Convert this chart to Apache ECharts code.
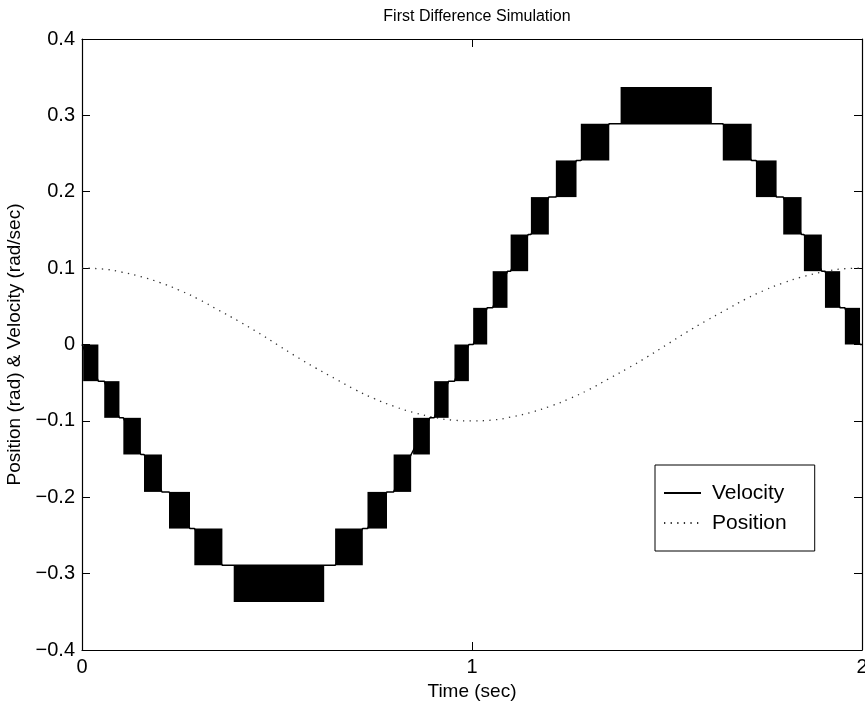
<!DOCTYPE html>
<html>
<head>
<meta charset="utf-8">
<script src="https://cdn.jsdelivr.net/npm/echarts@6/dist/echarts.min.js"></script>
<style>
  html, body { margin: 0; padding: 0; background: #fff; }
  #chart { width: 865px; height: 704px; }
</style>
</head>
<body>
<div id="chart"></div>
<script>
// Quantized velocity: bands where the output switches rapidly between two levels
const bandStart = [0.003, 0.057, 0.106, 0.159, 0.223, 0.288, 0.389, 0.649, 0.732, 0.799, 0.849, 0.903, 0.955,
                   1.003, 1.053, 1.099, 1.151, 1.215, 1.279, 1.381, 1.643, 1.728, 1.798, 1.851, 1.905, 1.956];
const bandEnd   = [0.042, 0.096, 0.151, 0.205, 0.277, 0.360, 0.621, 0.720, 0.782, 0.844, 0.892, 0.940, 0.992,
                   1.039, 1.091, 1.144, 1.197, 1.268, 1.352, 1.615, 1.717, 1.781, 1.845, 1.897, 1.944, 1.995];
const bandLow   = [-0.048, -0.096, -0.144, -0.193, -0.241, -0.289, -0.337, -0.289, -0.241, -0.193, -0.144, -0.096, -0.048,
                   0, 0.048, 0.096, 0.144, 0.193, 0.241, 0.289, 0.241, 0.193, 0.144, 0.096, 0.048, 0];
const bandHigh  = [0, -0.048, -0.096, -0.144, -0.193, -0.241, -0.289, -0.241, -0.193, -0.144, -0.096, -0.048, 0,
                   0.048, 0.096, 0.144, 0.193, 0.241, 0.289, 0.337, 0.289, 0.241, 0.193, 0.144, 0.096, 0.048];
// Level held after each band until the next band begins
const holdLevel = [-0.048, -0.096, -0.144, -0.193, -0.241, -0.289, -0.289, -0.241, -0.193, -0.144, -0.096, -0.048, 0,
                   0.048, 0.096, 0.144, 0.193, 0.241, 0.289, 0.289, 0.241, 0.193, 0.144, 0.096, 0.048, 0];

// Position trace
const posTime  = [0, 0.05, 0.1, 0.15, 0.2, 0.25, 0.3, 0.35, 0.4, 0.45, 0.5, 0.55, 0.6, 0.65, 0.7, 0.75, 0.8, 0.85, 0.9, 0.95,
                  1.0, 1.05, 1.1, 1.15, 1.2, 1.25, 1.3, 1.35, 1.4, 1.45, 1.5, 1.55, 1.6, 1.65, 1.7, 1.75, 1.8, 1.85, 1.9, 1.95, 2.0];
const posValue = [0.100, 0.099, 0.095, 0.089, 0.081, 0.071, 0.059, 0.045, 0.031, 0.016, 0.000, -0.016, -0.031, -0.045,
                  -0.059, -0.071, -0.081, -0.089, -0.095, -0.099, -0.100, -0.099, -0.095, -0.089, -0.081, -0.071,
                  -0.059, -0.045, -0.031, -0.016, 0.000, 0.016, 0.031, 0.045, 0.059, 0.071, 0.081, 0.089, 0.095, 0.099, 0.100];

const xTicks = [0, 1, 2];
const yTicks = [-0.4, -0.3, -0.2, -0.1, 0, 0.1, 0.2, 0.3, 0.4];

const FONT = 'Liberation Sans, Arial, Helvetica, sans-serif';

// Stair path through the held levels
const velLine = [[0, 0]];
for (let i = 0; i < bandStart.length; i++) {
  const next = i + 1 < bandStart.length ? bandStart[i + 1] : 2;
  velLine.push([bandEnd[i], holdLevel[i]]);
  velLine.push([next, holdLevel[i]]);
}
const bands = bandStart.map((t, i) => [t, bandEnd[i], bandLow[i], bandHigh[i]]);
const posLine = posTime.map((t, i) => [t, posValue[i]]);

function fmtY(v) {
  const r = Math.round(v * 10) / 10;
  if (r === 0) return '0';
  return r < 0 ? '\u2212' + Math.abs(r).toFixed(1) : r.toFixed(1);
}

const tickStyle = { show: true, inside: true, length: 8, lineStyle: { color: '#000', width: 1 } };
const lineStyle = { show: true, onZero: false, lineStyle: { color: '#000', width: 1.2 } };

const chart = echarts.init(document.getElementById('chart'), null, { renderer: 'canvas' });
chart.setOption({
  animation: false,
  backgroundColor: '#fff',
  title: {
    text: 'First Difference Simulation',
    left: 472, top: 4, textAlign: 'center',
    textStyle: { fontFamily: FONT, fontSize: 16, fontWeight: 'normal', color: '#000' }
  },
  grid: { left: 82, right: 3, top: 39, bottom: 54, containLabel: false, outerBoundsMode: 'none' },
  legend: {
    orient: 'vertical',
    left: 655, top: 465,
    data: ['Velocity', 'Position'],
    itemWidth: 37, itemHeight: 14, itemGap: 8,
    padding: [17, 28, 17, 8],
    borderColor: '#000', borderWidth: 1, backgroundColor: '#fff',
    itemStyle: { color: 'rgba(0,0,0,0)', borderColor: 'rgba(0,0,0,0)', borderWidth: 0 },
    textStyle: { fontFamily: FONT, fontSize: 21, color: '#000', lineHeight: 22, padding: [0, 0, 0, 6] }
  },
  xAxis: [
    {
      type: 'value', min: 0, max: 2, interval: 1, position: 'bottom',
      name: 'Time (sec)', nameLocation: 'middle', nameGap: 30,
      nameTextStyle: { fontFamily: FONT, fontSize: 19, color: '#000' },
      axisLine: lineStyle, axisTick: tickStyle, splitLine: { show: false },
      axisLabel: { fontFamily: FONT, fontSize: 20, color: '#000', margin: 7,
                   formatter: v => xTicks.includes(v) ? String(v) : '' }
    },
    {
      type: 'value', min: 0, max: 2, interval: 1, position: 'top',
      axisLine: lineStyle, axisTick: tickStyle, axisLabel: { show: false }, splitLine: { show: false }
    }
  ],
  yAxis: [
    {
      type: 'value', min: -0.4, max: 0.4, interval: 0.1, position: 'left',
      name: 'Position (rad) & Velocity (rad/sec)', nameLocation: 'middle', nameGap: 56, nameRotate: 90,
      nameTextStyle: { fontFamily: FONT, fontSize: 19, color: '#000' },
      axisLine: lineStyle, axisTick: tickStyle, splitLine: { show: false },
      axisLabel: { fontFamily: FONT, fontSize: 20, color: '#000', margin: 7,
                   formatter: v => yTicks.some(t => Math.abs(t - v) < 1e-9) ? fmtY(v) : '' }
    },
    {
      type: 'value', min: -0.4, max: 0.4, interval: 0.1, position: 'right',
      axisLine: lineStyle, axisTick: tickStyle, axisLabel: { show: false }, splitLine: { show: false }
    }
  ],
  series: [
    {
      name: 'bands',
      type: 'custom',
      xAxisIndex: 0, yAxisIndex: 0,
      encode: { x: [0, 1], y: [2, 3] },
      data: bands,
      renderItem: function (params, api) {
        const a = api.coord([api.value(0), api.value(3)]);
        const b = api.coord([api.value(1), api.value(2)]);
        return {
          type: 'rect',
          shape: { x: a[0], y: a[1], width: b[0] - a[0], height: b[1] - a[1] },
          style: { fill: '#000' }
        };
      },
      z: 3
    },
    {
      name: 'Velocity',
      type: 'line',
      data: velLine,
      symbol: 'none',
      lineStyle: { color: '#000', width: 1.5 },
      itemStyle: { color: '#000' },
      z: 4
    },
    {
      name: 'Position',
      type: 'line',
      data: posLine,
      symbol: 'none',
      smooth: true,
      lineStyle: { color: '#333', width: 1.3, type: [1.3, 5.3] },
      itemStyle: { color: '#333' },
      z: 2
    }
  ]
});
</script>
</body>
</html>
